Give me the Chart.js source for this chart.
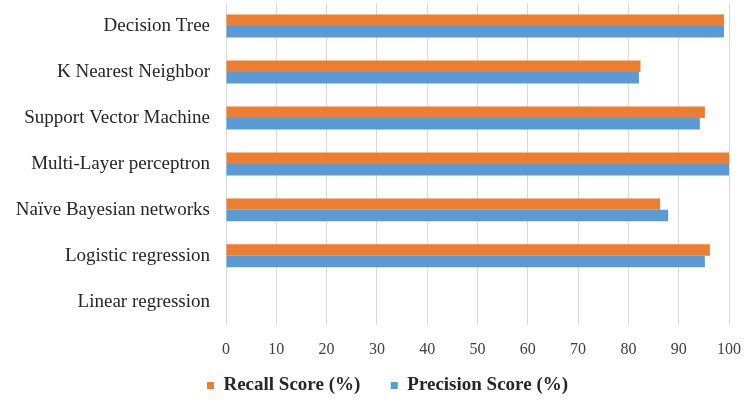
<!DOCTYPE html>
<html>
<head>
<meta charset="utf-8">
<script src="https://cdn.jsdelivr.net/npm/chart.js@4"></script>
<style>
  html, body { margin: 0; padding: 0; background: #fff; height: 400px; overflow: hidden; }
  #wrap { width: 749px; height: 405px; }
</style>
</head>
<body>
<div id="wrap"><canvas id="chart"></canvas></div>
<script>
const models = ["Decision Tree", "K Nearest Neighbor", "Support Vector Machine",
  "Multi-Layer perceptron", "Naïve Bayesian networks", "Logistic regression", "Linear regression"];
const recallScores = [99, 82.4, 95.2, 100, 86.3, 96.2, 0];
const precisionScores = [99, 82.1, 94.2, 100, 87.9, 95.2, 0];
const xTicks = [0, 10, 20, 30, 40, 50, 60, 70, 80, 90, 100];

const serif = "'Liberation Serif', 'Times New Roman', serif";

// legend in the original sits a bit right of centre
const shiftLegend = {
  id: "shiftLegend",
  afterLayout: chart => { chart.legend.left += 23; chart.legend.right += 23; }
};

new Chart(document.getElementById("chart"), {
  type: "bar",
  data: {
    labels: models,
    datasets: [
      { label: "Recall Score (%)", data: recallScores, backgroundColor: "#ED7D31" },
      { label: "Precision Score (%)", data: precisionScores, backgroundColor: "#5B9BD5" }
    ]
  },
  options: {
    indexAxis: "y",
    responsive: true,
    maintainAspectRatio: false,
    animation: false,
    layout: { padding: { top: 3, right: 20, bottom: 0, left: 0 } },
    datasets: { bar: { categoryPercentage: 0.5, barPercentage: 1.0 } },
    scales: {
      x: {
        min: 0, max: 100,
        afterBuildTicks: s => { s.ticks = xTicks.map(v => ({ value: v })); },
        afterFit: s => { s.paddingLeft = 0; s.paddingRight = 0; },
        grid: { color: "#d9d9d9", lineWidth: 1, drawTicks: false },
        border: { display: false },
        ticks: { color: "#404040", padding: 15, font: { family: serif, size: 16 } }
      },
      y: {
        afterFit: s => { s.width = 226; s.paddingTop = 0; s.paddingBottom = 0; },
        grid: { display: false, drawTicks: false },
        border: { display: false },
        ticks: { color: "#262626", padding: 16, font: { family: serif, size: 19 } }
      }
    },
    plugins: {
      legend: {
        position: "bottom",
        labels: {
          boxWidth: 7, boxHeight: 7, padding: 2, color: "#262626",
          font: { family: serif, size: 19, weight: "bold" },
          generateLabels: chart => {
            const items = Chart.defaults.plugins.legend.labels.generateLabels(chart);
            items[0].text += "      ";
            return items;
          }
        }
      },
      tooltip: { enabled: false }
    }
  },
  plugins: [shiftLegend]
});
</script>
</body>
</html>
